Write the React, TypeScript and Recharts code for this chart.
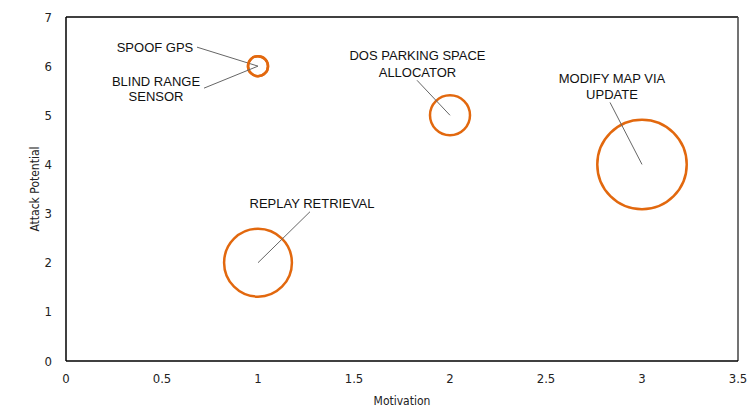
import { ScatterChart, Scatter, XAxis, YAxis, ZAxis, ReferenceLine } from 'recharts'

// threat bubbles
const threats = ['SPOOF GPS', 'BLIND RANGE SENSOR', 'DOS PARKING SPACE ALLOCATOR', 'MODIFY MAP VIA UPDATE', 'REPLAY RETRIEVAL']
const motivation = [1, 1, 2, 3, 1]
const attackPotential = [6, 6, 5, 4, 2]
const impact = [1, 1, 4, 20, 11.5]

const xTicks = [0, 0.5, 1, 1.5, 2, 2.5, 3, 3.5]
const yTicks = [0, 1, 2, 3, 4, 5, 6, 7]

// label text lines + leader line end, as pixel offsets from bubble centre
const labelLayout: Record<string, { lines: [string, number, number][]; end: [number, number] }> = {
  'SPOOF GPS': { lines: [['SPOOF GPS', -103, -18.5]], end: [-61, -19] },
  'BLIND RANGE SENSOR': { lines: [['BLIND RANGE', -102, 15.5], ['SENSOR', -102, 30]], end: [-54, 22] },
  'DOS PARKING SPACE ALLOCATOR': {
    lines: [['DOS PARKING SPACE', -32.5, -59.5], ['ALLOCATOR', -32.5, -43]],
    end: [-33, -35],
  },
  'MODIFY MAP VIA UPDATE': { lines: [['MODIFY MAP VIA', -30, -86], ['UPDATE', -30, -70]], end: [-32, -62] },
  'REPLAY RETRIEVAL': { lines: [['REPLAY RETRIEVAL', 54, -59]], end: [52, -51] },
}

const data = threats.map((name, i) => ({
  name,
  x: motivation[i],
  y: attackPotential[i],
  z: impact[i],
}))

const narrow = { fontFamily: '"DejaVu Sans", sans-serif', fontStretch: 'condensed' as const }
const tickStyle = { fontSize: 13, fill: '#222', ...narrow }

function Bubble(props: any) {
  const { cx, cy, payload } = props
  const r = props.size ? Math.sqrt(props.size / Math.PI) : (props.width || 0) / 2
  const lay = labelLayout[payload.name]
  return (
    <g>
      <circle cx={cx} cy={cy} r={r} fill="none" stroke="#E2680E" strokeWidth={2.5} />
      {lay && (
        <>
          <line x1={cx} y1={cy} x2={cx + lay.end[0]} y2={cy + lay.end[1]} stroke="#666" strokeWidth={1} />
          {lay.lines.map(([t, dx, dy]) => (
            <text
              key={t}
              x={cx + dx}
              y={cy + dy}
              textAnchor="middle"
              dominantBaseline="central"
              fontSize={13}
              fill="#111"
              fontFamily='"Liberation Sans", Arial, sans-serif'
            >
              {t}
            </text>
          ))}
        </>
      )}
    </g>
  )
}

export default function App() {
  return (
    <div style={{ position: 'absolute', left: 0, top: 0, background: '#fff' }}>
      <ScatterChart width={750} height={409} margin={{ top: 17, right: 12, bottom: 0, left: 0 }}>
        <XAxis
          type="number"
          dataKey="x"
          domain={[0, 3.5]}
          ticks={xTicks}
          tickLine={false}
          tickMargin={7}
          tick={tickStyle}
          axisLine={{ stroke: '#000', strokeWidth: 1.5 }}
          height={48}
          label={{
            value: 'Motivation',
            position: 'insideBottom',
            offset: 4,
            style: { fontSize: 12, fill: '#222', ...narrow },
          }}
        />
        <YAxis
          type="number"
          dataKey="y"
          domain={[0, 7]}
          ticks={yTicks}
          tickLine={false}
          tickMargin={8}
          tick={tickStyle}
          axisLine={{ stroke: '#000', strokeWidth: 1.5 }}
          width={66}
          label={{
            value: 'Attack Potential',
            angle: -90,
            position: 'insideLeft',
            offset: 35,
            style: { textAnchor: 'middle', fontSize: 12, fill: '#222', ...narrow },
          }}
        />
        <ZAxis type="number" dataKey="z" domain={[0, 20]} range={[0, 6283]} />
        <ReferenceLine y={7} stroke="#000" strokeWidth={1.5} />
        <ReferenceLine x={3.5} stroke="#444" strokeWidth={1.5} />
        <Scatter data={data} shape={<Bubble />} isAnimationActive={false} />
      </ScatterChart>
    </div>
  )
}
